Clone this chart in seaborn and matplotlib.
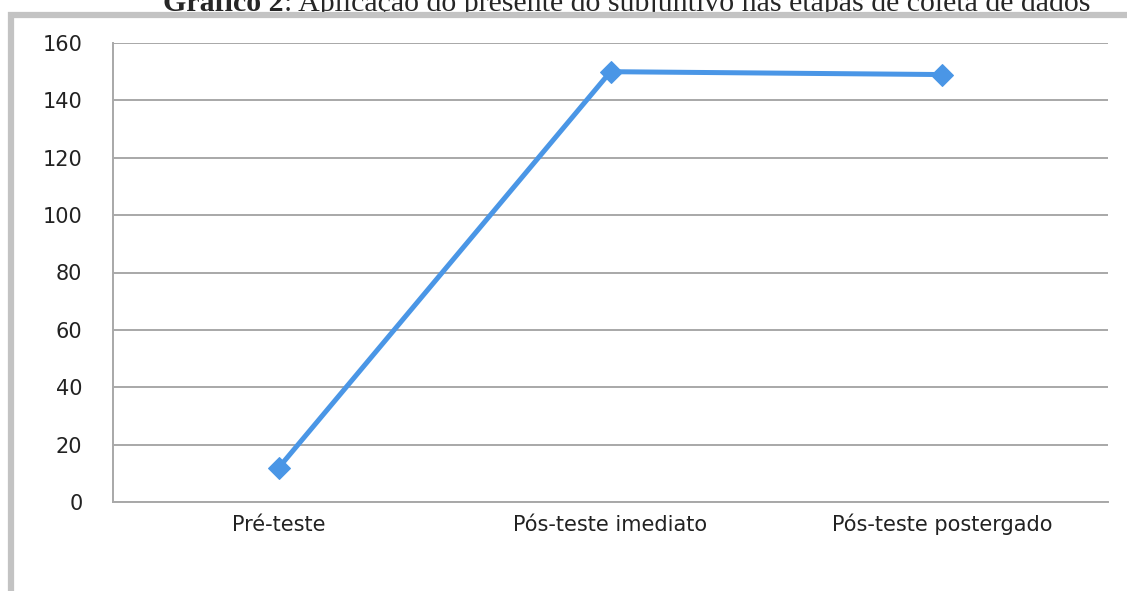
import pandas as pd
import seaborn as sns
import matplotlib.pyplot as plt
from matplotlib.patches import Rectangle

# data
etapas = ['Pré-teste', 'Pós-teste imediato', 'Pós-teste postergado']
valores = [12, 150, 149]
y_ticks = [0, 20, 40, 60, 80, 100, 120, 140, 160]

titulo_bold = 'Gráfico 2'
titulo_resto = ': Aplicação do presente do subjuntivo nas etapas de coleta de dados'

df = pd.DataFrame({'etapa': etapas, 'valor': valores})

sns.set_style('white')
plt.rcParams['font.family'] = ['DejaVu Sans']

fig = plt.figure(figsize=(11.27, 5.91), dpi=100)
ax = fig.add_axes([113 / 1127, 1 - 502 / 591, (1108 - 113) / 1127, (502 - 43) / 591])

sns.lineplot(x='etapa', y='valor', data=df, ax=ax, color='#4a96e6',
             linewidth=3.6, marker='D', markersize=11, markeredgecolor='#4a96e6',
             sort=False)

ax.set_xlim(-0.5, 2.5)
ax.set_ylim(0, 160)
ax.set_yticks(y_ticks)
ax.yaxis.grid(True, color='#a8a8a8', linewidth=1.4)
ax.set_axisbelow(True)
ax.set_xlabel('')
ax.set_ylabel('')
for s in ['top', 'right']:
    ax.spines[s].set_visible(False)
for s in ['left', 'bottom']:
    ax.spines[s].set_color('#a8a8a8')
    ax.spines[s].set_linewidth(1.4)
ax.tick_params(axis='y', length=0, pad=22, labelsize=15, labelcolor='#222222')
ax.tick_params(axis='x', length=0, pad=21, labelsize=15, labelcolor='#222222')
# same baseline for all category labels
for lbl in ax.get_xticklabels():
    lbl.set_verticalalignment('baseline')

# gray frame around the figure (top and left visible)
fig.patches.append(Rectangle((11 / 1127, -0.1), 1.2, 1 - 15 / 591 + 0.1,
                             transform=fig.transFigure, fill=False,
                             edgecolor='#c3c3c3', linewidth=4.5, zorder=5))

# title, partly cut at the top like the reference
t1 = fig.text(163 / 1127, 1 - 11 / 591, titulo_bold, fontsize=21.5, fontweight='bold',
              family='Liberation Serif', va='baseline', ha='left', zorder=1)
fig.canvas.draw()
ax.annotate(titulo_resto, xy=(1, 0), xycoords=t1, fontsize=21.5,
            family='Liberation Serif', va='bottom', ha='left', annotation_clip=False)

fig.savefig('out.png', dpi=100)
